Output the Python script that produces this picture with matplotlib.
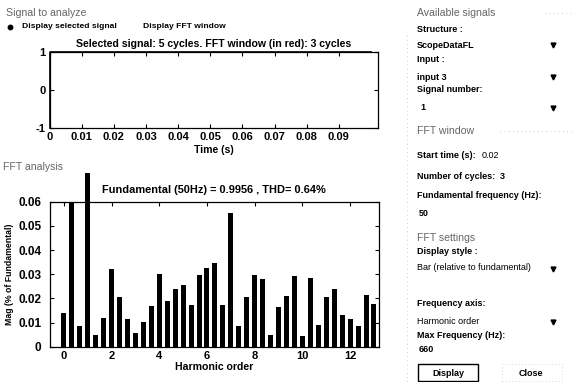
import numpy as np
import matplotlib
matplotlib.use("Agg")
import matplotlib.pyplot as plt
from matplotlib.patches import Rectangle
from matplotlib.lines import Line2D

plt.rcParams['font.family'] = ['Liberation Sans', 'DejaVu Sans']
plt.rcParams['axes.unicode_minus'] = False

# ---------------- data ----------------
time_s = [0.0, 0.0, 0.1]
signal = [-1.0, 1.0, 1.0]

harmonic_order = [i / 3 for i in range(40)]
magnitude = [0.0138, 0.0600, 0.0087, 0.0717, 0.0047, 0.0120, 0.0320, 0.0207,
             0.0114, 0.0055, 0.0103, 0.0170, 0.0300, 0.0189, 0.0237, 0.0254,
             0.0172, 0.0297, 0.0324, 0.0348, 0.0171, 0.0552, 0.0087, 0.0204,
             0.0295, 0.0279, 0.0048, 0.0164, 0.0210, 0.0292, 0.0044, 0.0283,
             0.0090, 0.0207, 0.0237, 0.0131, 0.0114, 0.0084, 0.0215, 0.0177]

time_ticks = [0, 0.01, 0.02, 0.03, 0.04, 0.05, 0.06, 0.07, 0.08, 0.09]
time_labels = ["0", "0.01", "0.02", "0.03", "0.04", "0.05", "0.06", "0.07", "0.08", "0.09"]
sig_ticks = [-1, 0, 1]
harm_ticks = [0, 2, 4, 6, 8, 10, 12]
mag_ticks = [0, 0.01, 0.02, 0.03, 0.04, 0.05, 0.06]
mag_labels = ["0", "0.01", "0.02", "0.03", "0.04", "0.05", "0.06"]

title_top = "Selected signal: 5 cycles. FFT window (in red): 3 cycles"
title_bottom = "Fundamental (50Hz) = 0.9956 , THD= 0.64%"

W, H = 574, 382
fig = plt.figure(figsize=(W / 100, H / 100), dpi=100)
fig.patch.set_facecolor('white')


def rect(x0, y0, x1, y1):
    return [x0 / W, 1 - y1 / H, (x1 - x0) / W, (y1 - y0) / H]


def txt(x, y, s, size=6.5, weight='bold', color='black', ha='left', **kw):
    fig.text(x / W, 1 - y / H, s, fontsize=size, fontweight=weight, color=color,
             ha=ha, va='center', **kw)


def style_axes(ax, ypad=3):
    ax.tick_params(direction='in', top=True, right=True, length=3, width=0.8,
                   labelsize=8, pad=3)
    ax.tick_params(axis='y', pad=ypad)
    for lab in ax.get_xticklabels() + ax.get_yticklabels():
        lab.set_fontweight('bold')
    for sp in ax.spines.values():
        sp.set_linewidth(0.9)


# ---------------- top axes ----------------
ax1 = fig.add_axes(rect(49.5, 52.3, 377.7, 128.3))
ax1.plot(time_s, signal, color='black', lw=1.2, clip_on=False)
ax1.set_xlim(0, 0.1021)
ax1.set_ylim(-1, 1)
ax1.set_xticks(time_ticks)
ax1.set_xticklabels(time_labels)
ax1.set_yticks(sig_ticks)
style_axes(ax1)
ax1.set_title(title_top, fontsize=7.6, fontweight='bold', pad=4)
ax1.set_xlabel("Time (s)", fontsize=7.6, fontweight='bold', labelpad=2)

# ---------------- bottom axes ----------------
ax2 = fig.add_axes(rect(49.5, 201.7, 379, 346.7))
bars = ax2.bar(harmonic_order, magnitude, width=0.21, color='black',
               edgecolor='black', linewidth=0)
for b in bars:
    b.set_clip_on(False)
ax2.set_xlim(-0.6, 13.21)
ax2.set_ylim(0, 0.06)
ax2.set_xticks(harm_ticks)
ax2.set_yticks(mag_ticks)
ax2.set_yticklabels(mag_labels)
style_axes(ax2, ypad=6)
for lab in ax2.get_yticklabels():
    lab.set_fontsize(8.5)
ax2.set_title(title_bottom, fontsize=7.9, fontweight='bold', pad=6)
ax2.set_xlabel("Harmonic order", fontsize=7.6, fontweight='bold', labelpad=1)
ax2.set_ylabel("Mag (% of Fundamental)", fontsize=6.3, fontweight='bold', labelpad=3)

# ---------------- left panel labels ----------------
gray = '#666666'
txt(6, 13, "Signal to analyze", size=7.6, weight='light', color=gray)
fig.add_artist(Line2D([10 / W], [1 - 27 / H], marker='o', markersize=3.2,
                      color='black', lw=0))
txt(22, 27, "Display selected signal", size=6.1)
txt(143, 27, "Display FFT window", size=6.1)
txt(3, 167, "FFT analysis", size=7.6, weight='light', color=gray)

# ---------------- right panel ----------------
fig.add_artist(Line2D([407 / W, 407 / W], [1 - 35 / H, 1 - 382 / H], color='#bbbbbb',
                      lw=0.6, ls=(0, (1, 4))))
fig.add_artist(Line2D([545 / W, 1.0], [1 - 13 / H, 1 - 13 / H], color='#bbbbbb',
                      lw=0.6, ls=(0, (1, 4))))
fig.add_artist(Line2D([500 / W, 1.0], [1 - 131 / H, 1 - 131 / H], color='#bbbbbb',
                      lw=0.6, ls=(0, (1, 4))))

x0 = 417
txt(x0, 13, "Available signals", size=7.6, weight='light', color=gray)
txt(x0, 29, "Structure :")
txt(x0, 45, "ScopeDataFL")
txt(x0, 60, "Input :")
txt(x0, 77, "input 3")
txt(x0, 90, "Signal number:")
txt(x0 + 3, 108, "1")
for yy in (45, 77, 108, 269, 322):
    fig.add_artist(Line2D([553 / W], [1 - yy / H], marker='v', markersize=3.5,
                          color='black', lw=0))
txt(x0, 131, "FFT window", size=7.6, weight='light', color=gray)
txt(x0, 155.7, "Start time (s):")
txt(482, 155.7, "0.02", weight='normal')
txt(x0, 176.7, "Number of cycles:")
txt(500, 176.7, "3")
txt(x0, 196, "Fundamental frequency (Hz):")
txt(x0 + 2, 214, "50")
txt(x0, 238, "FFT settings", size=7.6, weight='light', color=gray)
txt(x0, 252, "Display style :")
txt(x0, 268, "Bar (relative to fundamental)", weight='normal')
txt(x0, 303, "Frequency axis:")
txt(x0, 321, "Harmonic order", weight='normal')
txt(x0, 335, "Max Frequency (Hz):")
txt(x0 + 2, 350, "660")

fig.add_artist(Rectangle((418 / W, 1 - 381 / H), 60 / W, 17 / H, fill=False,
                         edgecolor='black', lw=1.0, transform=fig.transFigure))
txt(448, 373, "Display", ha='center')
fig.add_artist(Rectangle((502 / W, 1 - 381 / H), 60 / W, 17 / H, fill=False,
                         edgecolor='#cccccc', lw=0.6, ls=(0, (1, 3)),
                         transform=fig.transFigure))
txt(531, 373, "Close", ha='center')

fig.savefig("out.png", dpi=100, facecolor='white')
